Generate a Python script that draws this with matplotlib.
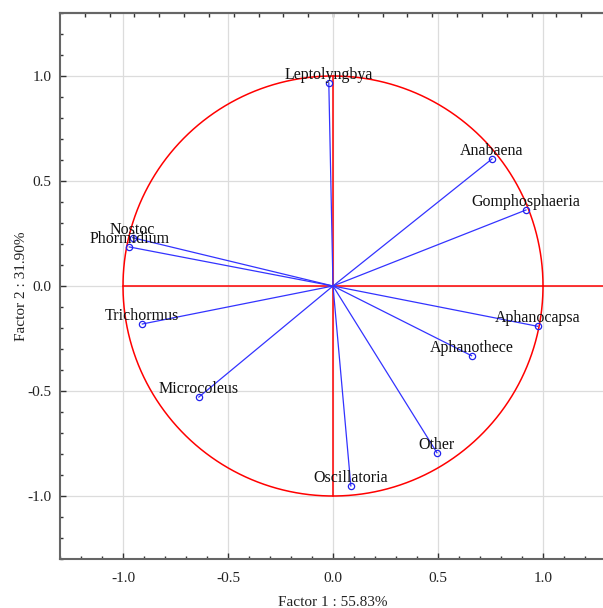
import numpy as np
import matplotlib.pyplot as plt
from matplotlib.ticker import MultipleLocator

# loadings
names = ['Leptolyngbya', 'Anabaena', 'Gomphosphaeria', 'Nostoc', 'Phormidium',
         'Trichormus', 'Microcoleus', 'Aphanocapsa', 'Aphanothece', 'Other',
         'Oscillatoria']
f1 = [-0.02, 0.757, 0.919, -0.954, -0.97, -0.908, -0.639, 0.975, 0.66, 0.495, 0.085]
f2 = [0.967, 0.605, 0.362, 0.23, 0.186, -0.181, -0.529, -0.192, -0.332, -0.794, -0.952]

plt.rcParams['font.family'] = ['Liberation Serif', 'DejaVu Serif']

fig = plt.figure(figsize=(6.03, 6.08), dpi=100)
ax = fig.add_axes([60 / 603, 49 / 608, 546 / 603, 546 / 608])
ax.set_xlim(-1.3, 1.3)
ax.set_ylim(-1.3, 1.3)

ax.grid(True, color='#dcdcdc', lw=0.9, zorder=0)
ax.set_axisbelow(True)

# unit circle and axes lines
t = np.linspace(0, 2 * np.pi, 400)
ax.plot(np.cos(t), np.sin(t), color='red', lw=1.1, zorder=2)
ax.plot([-1, 1.3], [0, 0], color='red', lw=1.1, zorder=2)
ax.plot([0, 0], [-1, 1], color='red', lw=1.1, zorder=2)

for n, x, y in zip(names, f1, f2):
    ax.plot([0, x], [0, y], color='#3333ff', lw=0.9, zorder=3)
    ax.plot(x, y, 'o', ms=4.5, mfc='none', mec='#2222ee', mew=0.9, zorder=4)
    ax.annotate(n, (x, y), xytext=(0, 4), textcoords='offset pixels',
                ha='center', va='baseline', fontsize=11.5, color='#111111', zorder=5)

ax.xaxis.set_major_locator(MultipleLocator(0.5))
ax.yaxis.set_major_locator(MultipleLocator(0.5))
ax.xaxis.set_minor_locator(MultipleLocator(0.1))
ax.yaxis.set_minor_locator(MultipleLocator(0.1))
ax.xaxis.set_major_formatter(lambda v, p: f'{v:.1f}')
ax.yaxis.set_major_formatter(lambda v, p: f'{v:.1f}')
ax.tick_params(which='both', direction='in', colors='#333333', labelcolor='#222222',
               labelsize=11, top=False, right=False)
ax.tick_params(which='major', length=4, width=1)
ax.tick_params(which='minor', length=2.5, width=1)
ax.tick_params(axis='x', pad=9)
ax.tick_params(axis='y', pad=6)

secax = ax.secondary_xaxis('top')
secax.set_xticks(np.linspace(-1.3, 1.3, 23)[1:-1])
secax.set_xticklabels([])
secax.tick_params(direction='in', length=3, width=1, colors='#333333')
secax.spines['top'].set_color('#666666')
secax.spines['top'].set_linewidth(1.5)

for s in ax.spines.values():
    s.set_color('#666666')
    s.set_linewidth(1.5)

ax.set_xlabel('Factor 1 : 55.83%', fontsize=11, color='#222222', labelpad=8)
ax.set_ylabel('Factor 2 : 31.90%', fontsize=11, color='#222222', labelpad=0)

fig.savefig('out.png', dpi=100)
